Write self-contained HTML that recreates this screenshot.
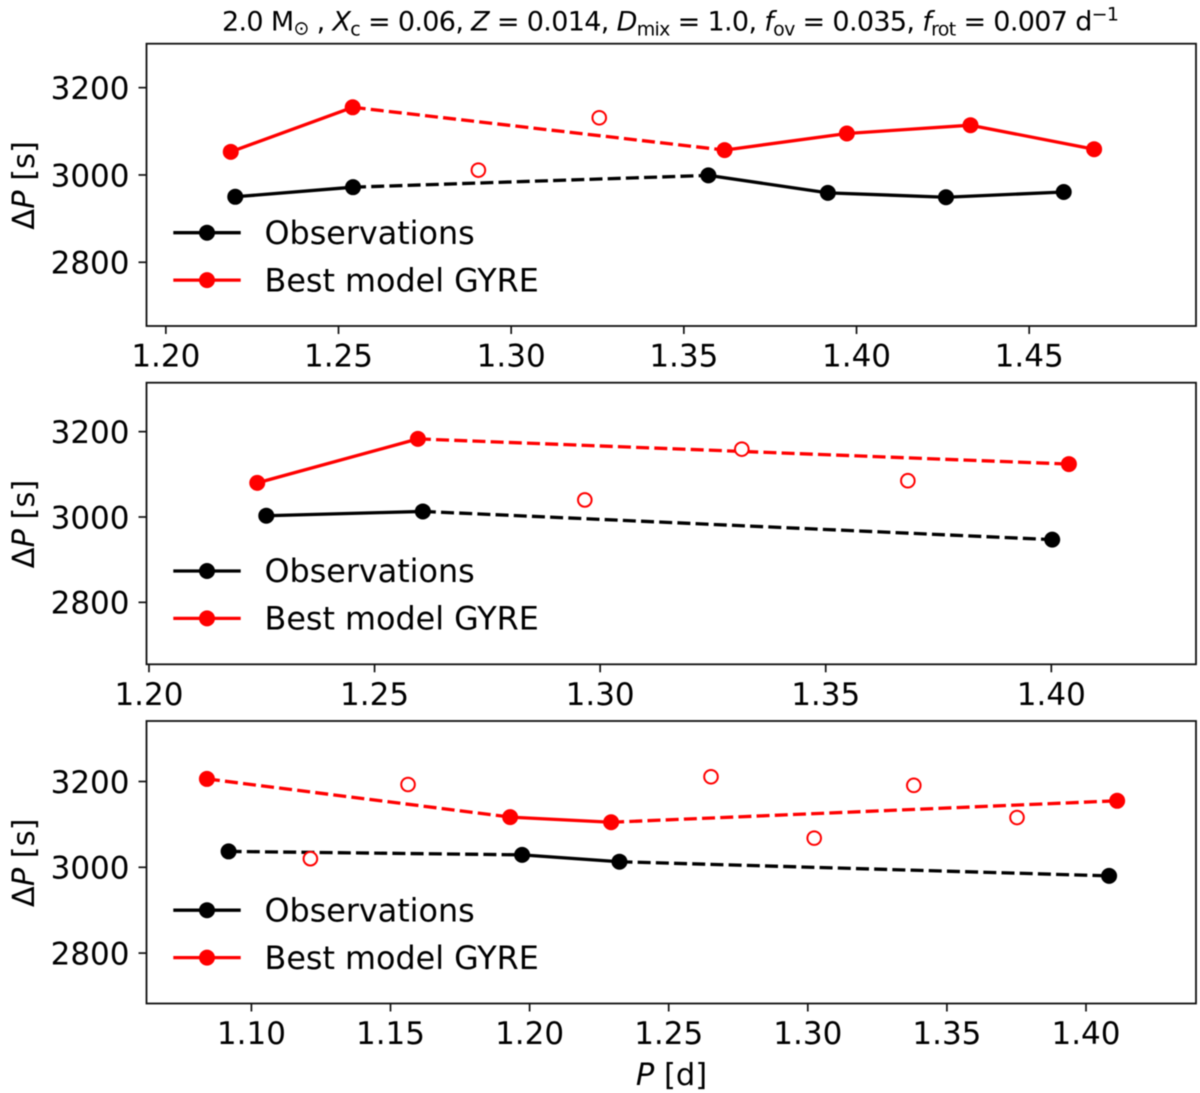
<!DOCTYPE html>
<html lang="en">
<head>
<meta charset="utf-8">
<title>Period spacing patterns: observations and best model</title>
<style>
  html, body { margin: 0; padding: 0; background: #fff; }
  svg { display: block; font-family: "DejaVu Sans", "Liberation Sans", sans-serif; filter: blur(0.5px); }
</style>
</head>
<body>
<svg id="figure" xmlns="http://www.w3.org/2000/svg" width="1200" height="1093" viewBox="0 0 1200 1093">
  <rect width="1200" height="1093" fill="#fff"></rect>
  <text x="222" y="30.5" font-size="27" textLength="897" lengthAdjust="spacing" fill="#000">2.0 M<tspan font-size="19" dy="4">⊙</tspan><tspan dy="-4"> , </tspan><tspan font-style="italic">X</tspan><tspan font-size="19" dy="5">c</tspan><tspan dy="-5"> = 0.06, </tspan><tspan font-style="italic">Z</tspan> = 0.014, <tspan font-style="italic">D</tspan><tspan font-size="19" dy="5">mix</tspan><tspan dy="-5"> = 1.0, </tspan><tspan font-style="italic">f</tspan><tspan font-size="19" dy="5">ov</tspan><tspan dy="-5"> = 0.035, </tspan><tspan font-style="italic">f</tspan><tspan font-size="19" dy="5">rot</tspan><tspan dy="-5"> = 0.007 d</tspan><tspan font-size="19" dy="-10">−1</tspan></text>
  <text x="671.5" y="1085" font-size="30.5" text-anchor="middle" fill="#000"><tspan font-style="italic">P</tspan> [d]</text>
</svg>
<script>
// Panel 1 data
const p1XTicks = [1.20, 1.25, 1.30, 1.35, 1.40, 1.45];
const p1XTickLabels = ["1.20", "1.25", "1.30", "1.35", "1.40", "1.45"];
const p1ObsPeriod = [1.2201, 1.2542, 1.3571, 1.3917, 1.4259, 1.4600];
const p1ObsSpacing = [2950, 2972, 2999, 2959, 2949, 2961];
const p1ObsGaps = [1];
const p1ModelPeriod = [1.2188, 1.2541, 1.3618, 1.3972, 1.4330, 1.4688];
const p1ModelSpacing = [3053, 3155, 3057, 3095, 3114, 3059];
const p1ModelGaps = [1];
const p1OpenPeriod = [1.2905, 1.3255];
const p1OpenSpacing = [3011, 3131];
const p1XLim = [1.1944, 1.4983];
const p1YLim = [2654, 3300.7];

// Panel 2 data
const p2XTicks = [1.20, 1.25, 1.30, 1.35, 1.40];
const p2XTickLabels = ["1.20", "1.25", "1.30", "1.35", "1.40"];
const p2ObsPeriod = [1.2260, 1.2607, 1.4002];
const p2ObsSpacing = [3003, 3013, 2947];
const p2ObsGaps = [1];
const p2ModelPeriod = [1.2240, 1.2596, 1.4039];
const p2ModelSpacing = [3080, 3183, 3124];
const p2ModelGaps = [1];
const p2OpenPeriod = [1.2966, 1.3314, 1.3682];
const p2OpenSpacing = [3040, 3159, 3085];
const p2XLim = [1.19945, 1.43207];
const p2YLim = [2654.8, 3314.7];

// Panel 3 data
const p3XTicks = [1.10, 1.15, 1.20, 1.25, 1.30, 1.35, 1.40];
const p3XTickLabels = ["1.10", "1.15", "1.20", "1.25", "1.30", "1.35", "1.40"];
const p3ObsPeriod = [1.0918, 1.1973, 1.2323, 1.4083];
const p3ObsSpacing = [3037, 3029, 3013, 2980];
const p3ObsGaps = [0, 2];
const p3ModelPeriod = [1.0840, 1.1930, 1.2293, 1.4112];
const p3ModelSpacing = [3206, 3117, 3105, 3155];
const p3ModelGaps = [0, 2];
const p3OpenPeriod = [1.1212, 1.1563, 1.2652, 1.3023, 1.3381, 1.3752];
const p3OpenSpacing = [3020, 3193, 3211, 3068, 3191, 3116];
const p3XLim = [1.06229, 1.43954];
const p3YLim = [2682.5, 3341];

const yTicks = [2800, 3000, 3200];
const yTickLabels = ["2800", "3000", "3200"];
const legendLabels = ["Observations", "Best model GYRE"];

const NS = "http://www.w3.org/2000/svg";
const svg = document.getElementById("figure");

function make(tag, attrs, parent) {
  const el = document.createElementNS(NS, tag);
  for (const k in attrs) el.setAttribute(k, attrs[k]);
  parent.appendChild(el);
  return el;
}

function drawSeries(g, xs, ys, gaps, color, sx, sy, label) {
  for (let i = 0; i < xs.length - 1; i++) {
    const dashed = gaps.indexOf(i) >= 0;
    const seg = make("line", {
      x1: sx(xs[i]), y1: sy(ys[i]), x2: sx(xs[i + 1]), y2: sy(ys[i + 1]),
      stroke: color, "stroke-width": 3.3,
      "stroke-dasharray": dashed ? "13 5.2" : "none"
    }, g);
    
    
  }
  for (let i = 0; i < xs.length; i++) {
    const pt = make("circle", { cx: sx(xs[i]), cy: sy(ys[i]), r: 8, fill: color }, g);
    
    
  }
}

function drawPanel(id, top, bottom, xLim, yLim, xTicks, xTickLabels, series) {
  const left = 146.5, right = 1196;
  const sx = v => left + (v - xLim[0]) / (xLim[1] - xLim[0]) * (right - left);
  const sy = v => bottom - (v - yLim[0]) / (yLim[1] - yLim[0]) * (bottom - top);

  const g = make("g", {}, svg);
  
  

  drawSeries(g, series.obsX, series.obsY, series.obsGaps, "#000", sx, sy, "observations");
  drawSeries(g, series.modelX, series.modelY, series.modelGaps, "#f00", sx, sy, "best-model");

  series.openX.forEach((x, i) => {
    const c = make("circle", { cx: sx(x), cy: sy(series.openY[i]), r: 6.8, fill: "#fff", stroke: "#f00", "stroke-width": 2 }, g);
    
    
  });

  const frame = make("rect", { x: left, y: top, width: right - left, height: bottom - top, fill: "none", stroke: "#111", "stroke-width": 1.8 }, g);
  
  

  xTicks.forEach((t, i) => {
    const px = sx(t);
    const tick = make("line", { x1: px, x2: px, y1: bottom, y2: bottom + 8, stroke: "#111", "stroke-width": 1.7 }, g);
    
    
    const lbl = make("text", { x: px, y: bottom + 40.5, "font-size": 31, "text-anchor": "middle", fill: "#000" }, g);
    
    
    lbl.textContent = xTickLabels[i];
  });

  yTicks.forEach((t, i) => {
    const py = sy(t);
    const tick = make("line", { x1: left - 8, x2: left, y1: py, y2: py, stroke: "#111", "stroke-width": 1.7 }, g);
    
    
    const lbl = make("text", { x: 129.5, y: py + 11.3, "font-size": 31, "text-anchor": "end", fill: "#000" }, g);
    
    
    lbl.textContent = yTickLabels[i];
  });

  const midY = (top + bottom) / 2 + 0.6;
  const yTitle = make("text", { transform: "translate(34," + (midY) + ") rotate(-90)", "font-size": 30.5, "text-anchor": "middle", fill: "#000" }, g);
  
  
  yTitle.textContent = "Δ";
  const ital = make("tspan", { "font-style": "italic" }, yTitle);
  ital.textContent = "P";
  const unit = make("tspan", {}, yTitle);
  unit.textContent = " [s]";

  const legendColors = ["#000", "#f00"];
  legendLabels.forEach((name, i) => {
    const ly = bottom - 93.3 + i * 47.4;
    const h = make("line", { x1: 173.3, x2: 240.7, y1: ly, y2: ly, stroke: legendColors[i], "stroke-width": 3.3 }, g);
    
    
    const m = make("circle", { cx: 207, cy: ly, r: 8, fill: legendColors[i] }, g);
    
    
    const txt = make("text", { x: 264.5, y: ly + 11.2, "font-size": 31.8, fill: "#000" }, g);
    
    
    txt.textContent = name;
  });
}

drawPanel("panel-top", 43.7, 326, p1XLim, p1YLim, p1XTicks, p1XTickLabels, {
  obsX: p1ObsPeriod, obsY: p1ObsSpacing, obsGaps: p1ObsGaps,
  modelX: p1ModelPeriod, modelY: p1ModelSpacing, modelGaps: p1ModelGaps,
  openX: p1OpenPeriod, openY: p1OpenSpacing
});
drawPanel("panel-middle", 382.7, 664.3, p2XLim, p2YLim, p2XTicks, p2XTickLabels, {
  obsX: p2ObsPeriod, obsY: p2ObsSpacing, obsGaps: p2ObsGaps,
  modelX: p2ModelPeriod, modelY: p2ModelSpacing, modelGaps: p2ModelGaps,
  openX: p2OpenPeriod, openY: p2OpenSpacing
});
drawPanel("panel-bottom", 721, 1003.5, p3XLim, p3YLim, p3XTicks, p3XTickLabels, {
  obsX: p3ObsPeriod, obsY: p3ObsSpacing, obsGaps: p3ObsGaps,
  modelX: p3ModelPeriod, modelY: p3ModelSpacing, modelGaps: p3ModelGaps,
  openX: p3OpenPeriod, openY: p3OpenSpacing
});
</script>
</body>
</html>
